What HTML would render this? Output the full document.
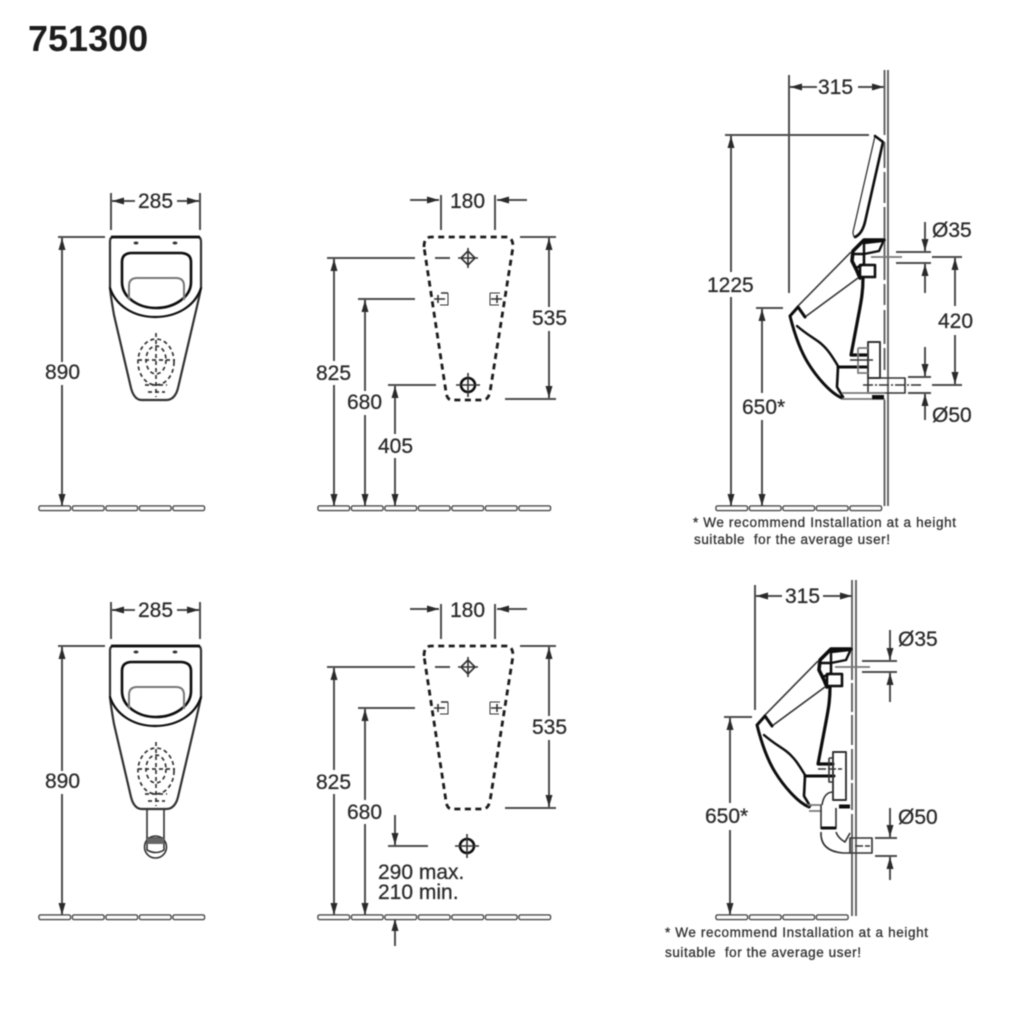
<!DOCTYPE html>
<html><head><meta charset="utf-8"><style>
html,body{margin:0;padding:0;background:#fff;width:1020px;height:1024px;overflow:hidden}
svg{display:block}
text{font-family:"Liberation Sans",sans-serif;fill:#2a2a2a;font-size:21px;stroke:#2a2a2a;stroke-width:.25}
.d{stroke:#4d4d4d;stroke-width:2;fill:none}
.k{stroke:#0c0c0c;stroke-width:2.6;fill:none;stroke-linejoin:round;stroke-linecap:round}
.m{stroke:#333;stroke-width:1.6;fill:none;stroke-linejoin:round}
.l{stroke:#777;stroke-width:1.7;fill:none}
.s{stroke:#333;stroke-width:1.7;fill:none;stroke-dasharray:4 3}
.dash{stroke:#1c1c1c;stroke-width:2.8;fill:none;stroke-dasharray:6 4.5;stroke-linejoin:round}
.f{fill:#fff;stroke:#444;stroke-width:1.5}
.w{stroke:#666;stroke-width:2;fill:none}
.n{font-size:13.5px;fill:#333;stroke:#333;stroke-width:.3}
</style></head><body>
<svg width="1020" height="1024" viewBox="0 0 1020 1024" xmlns="http://www.w3.org/2000/svg">
<defs>
<filter id="b" x="-2%" y="-2%" width="104%" height="104%"><feGaussianBlur stdDeviation="0.5"/></filter>
<marker id="a" viewBox="0 0 12 7" refX="12" refY="3.5" markerWidth="12" markerHeight="7" markerUnits="userSpaceOnUse" orient="auto"><path d="M0 0L12 3.500L0 7z" fill="#2a2a2a"/></marker>
<g id="seg"><rect x="0" y="-2" width="31.5" height="4.5" rx="1.5" class="f"/></g>
<g id="f4"><use href="#seg" x="0"/><use href="#seg" x="33.5"/><use href="#seg" x="67"/><use href="#seg" x="100.5"/></g>
<g id="front">
 <path class="m" style="stroke-width:2.2" d="M110 241Q110 237 114 237H197Q201 237 201 241V288Q199 298 195 315L178 388Q175 400 166 400H142Q134 400 131 388L114 315Q111 298 110 288Z"/>
 <path d="M111 237H200" stroke="#111" stroke-width="2.8"/>
 <path class="k" style="stroke-width:2.2" d="M110 288C116 306 134 317 155 317C177 317 195 306 201 288"/>
 <path class="k" d="M122 262Q122 253 132 253H180Q191 253 191 262V282C191 298 173 308 156 308C139 308 122 298 122 282Z"/>
 <path class="l" style="stroke-width:2" d="M129 300V286Q129 278 137 278H176Q184 278 184 286V300"/>
 <ellipse cx="136" cy="243" rx="2.5" ry="1.5" fill="#333"/><ellipse cx="175" cy="243" rx="2.5" ry="1.5" fill="#333"/>
 <g class="s">
  <ellipse cx="156" cy="362" rx="18" ry="23"/><ellipse cx="156" cy="360" rx="10" ry="14"/>
  <path d="M156 333V397M138 360H175M145 385H167M148 392H165"/>
 </g>
</g>
<g id="rear">
 <path class="dash" d="M424 247Q424 237 431 237H506Q513 237 513 247L490 392Q488 400 483 400H452Q447 400 446 392Z"/>
 <path class="m" d="M468 251L475 258L468 265L461 258ZM468 248V268M458 258H478"/>
 <path class="m" style="stroke-width:1" d="M448 293V305H440M490 293V305H499M490 293H500"/>
 <path class="m" d="M448 293H441M434 299H445M491 299H502M497 295V303M438 295V303"/>
</g>
<g id="bowl">
 <path d="M884 239L863 239L853 250L852 260L857 270L860 278L862 278L875 277V265L862 265L862 253L865 253L878 250L882 242L865 243L865 253L853 252Z" fill="#0c0c0c" fill-rule="nonzero" opacity="0"/>
 <path class="k" style="stroke-width:3.6" d="M884 240L864 240L853 251L852 261L857 271L860 278"/>
 <path class="k" style="stroke-width:2.4" d="M884 240L879 251L864 254V243L882 241"/>
 <path class="k" style="stroke-width:2.6" d="M853 254L864 254V264L856 268"/>
 <path class="k" style="stroke-width:2.6" d="M860 265H875V277H860Z"/>
 <path class="m" d="M851 252L797 307"/>
 <path class="m" d="M858 278L805 317"/>
 <path class="k" style="stroke-width:3" d="M805 317L798 307L790 316C794 332 800 350 808 363C816 376 830 393 842 398"/>
 <path class="k" style="stroke-width:2.4" d="M797 326C805 333 812 337 819 342C827 348 832 356 838 366"/>
 <path class="k" style="stroke-width:3" d="M838 367H867"/>
 <path class="k" d="M838 367L837 387L843 397"/>
 <path class="k" style="stroke-width:3.2" d="M863 278C863 293 861 302 858 318L851 355H866"/>
</g>
</defs>
<g filter="url(#b)">
<text x="28" y="51" style="font-size:36px;font-weight:bold;fill:#1c1c1c;stroke:none">751300</text>

<!-- Front top -->
<use href="#front"/>
<path class="d" d="M111 193V230M200 193V230"/>
<path class="d" marker-end="url(#a)" d="M135 201H112"/><path class="d" marker-end="url(#a)" d="M177 201H199"/>
<text x="138" y="208">285</text>
<path class="d" d="M58 237H105"/>
<path class="d" marker-end="url(#a)" d="M62 362V238"/><path class="d" marker-end="url(#a)" d="M62 385V506"/>
<text x="45" y="379">890</text>
<g transform="translate(39 508)"><use href="#f4"/><use href="#seg" x="134"/></g>

<!-- Front bottom -->
<use href="#front" y="409"/>
<path class="m" d="M147 809V838M164 809V838"/>
<circle cx="155.500" cy="847" r="11" class="m"/>
<path class="m" d="M147 838H164V850Q156 855 147 850Z" fill="#fff"/>
<rect x="147" y="838" width="17" height="6" fill="#666"/>
<path class="d" d="M111 602V639M200 602V639"/>
<path class="d" marker-end="url(#a)" d="M135 610H112"/><path class="d" marker-end="url(#a)" d="M177 610H199"/>
<text x="138" y="617">285</text>
<path class="d" d="M58 646H105"/>
<path class="d" marker-end="url(#a)" d="M62 771V647"/><path class="d" marker-end="url(#a)" d="M62 794V915"/>
<text x="45" y="788">890</text>
<g transform="translate(39 917)"><use href="#f4"/><use href="#seg" x="134"/></g>

<!-- Rear top -->
<use href="#rear"/>
<circle cx="468" cy="385" r="7" class="k"/><path class="m" d="M468 373V397M456 385H480"/>
<path class="d" d="M441 195V230M495 195V230"/>
<path class="d" marker-end="url(#a)" d="M410 200H439"/><path class="d" marker-end="url(#a)" d="M527 200H497"/>
<text x="450" y="208">180</text>
<path class="d" d="M520 237H556M505 399H556"/>
<path class="d" marker-end="url(#a)" d="M549 307V238"/><path class="d" marker-end="url(#a)" d="M549 331V398"/>
<text x="532" y="325">535</text>
<path class="d" d="M327 258H415M435 258H450"/>
<path class="d" marker-end="url(#a)" d="M334 361V259"/><path class="d" marker-end="url(#a)" d="M334 385V506"/>
<text x="316" y="380">825</text>
<path class="d" d="M358 299H415"/>
<path class="d" marker-end="url(#a)" d="M365 391V300"/><path class="d" marker-end="url(#a)" d="M365 415V506"/>
<text x="347" y="409">680</text>
<path class="d" d="M388 385H436"/>
<path class="d" marker-end="url(#a)" d="M395 434V386"/><path class="d" marker-end="url(#a)" d="M395 458V506"/>
<text x="378" y="453">405</text>
<g transform="translate(318 508)"><use href="#f4"/><use href="#seg" x="134"/><use href="#seg" x="167.5"/><use href="#seg" x="201"/></g>

<!-- Rear bottom -->
<use href="#rear" y="409"/>
<circle cx="467" cy="846" r="7" class="k"/><path class="m" d="M467 834V858M455 846H479"/>
<path class="d" d="M441 604V639M495 604V639"/>
<path class="d" marker-end="url(#a)" d="M410 609H439"/><path class="d" marker-end="url(#a)" d="M527 609H497"/>
<text x="450" y="617">180</text>
<path class="d" d="M520 646H556M505 808H556"/>
<path class="d" marker-end="url(#a)" d="M549 716V647"/><path class="d" marker-end="url(#a)" d="M549 740V807"/>
<text x="532" y="734">535</text>
<path class="d" d="M327 667H415M435 667H450"/>
<path class="d" marker-end="url(#a)" d="M334 770V668"/><path class="d" marker-end="url(#a)" d="M334 794V915"/>
<text x="316" y="789">825</text>
<path class="d" d="M358 708H415"/>
<path class="d" marker-end="url(#a)" d="M365 800V709"/><path class="d" marker-end="url(#a)" d="M365 824V915"/>
<text x="347" y="819">680</text>
<path class="d" d="M388 846H428"/>
<path class="d" marker-end="url(#a)" d="M395 815V845"/><path class="d" marker-end="url(#a)" d="M395 946V919"/>
<text x="378" y="879">290 max.</text>
<text x="378" y="899">210 min.</text>
<g transform="translate(318 917)"><use href="#f4"/><use href="#seg" x="134"/><use href="#seg" x="167.5"/><use href="#seg" x="201"/></g>

<!-- Side top -->
<path class="w" d="M888 70V506"/>
<path class="w" d="M884.500 70V135M884.500 142V168M884.500 172V203M884.500 207V280M884.500 284V305M884.500 310V344M884.500 348V370M884.500 400V506"/>
<path class="m" style="stroke-width:1.3" d="M875 136L853 232Q853 238 857 237"/>
<path class="k" d="M875 136L883 142L865 222Q862 234 855 237"/>
<use href="#bowl"/>
<path class="m" style="stroke-width:1.9" d="M868 342H880V378H868Z"/>
<path class="l" d="M858 348H868M858 348V373H868"/>
<path class="m" d="M850 360H873"/>
<path class="m" d="M868 378H905V393H868Z"/>
<path class="m" style="stroke-dasharray:10 2 2 2" d="M863 385H923"/>
<path class="l" d="M842 393H885M842 399H885"/>
<rect x="872" y="395" width="12" height="4.500" fill="#0c0c0c"/>
<path class="l" d="M871 257H902"/>
<path class="d" d="M896 252H931M896 263H931M932 257H962M932 385H962M908 377H931M908 393H931"/>
<path class="d" d="M789 75V293"/>
<path class="d" marker-end="url(#a)" d="M817 87H790"/><path class="d" marker-end="url(#a)" d="M858 87H884"/>
<text x="818" y="94">315</text>
<path class="d" d="M725 135H869"/>
<path class="d" marker-end="url(#a)" d="M731 272V136"/><path class="d" marker-end="url(#a)" d="M731 297V506"/>
<text x="707" y="292">1225</text>
<path class="d" d="M756 308H783"/>
<path class="d" marker-end="url(#a)" d="M762 393V309"/><path class="d" marker-end="url(#a)" d="M762 420V506"/>
<text x="742" y="414">650*</text>
<path class="d" marker-end="url(#a)" d="M925 222V251"/><path class="d" marker-end="url(#a)" d="M925 293V264"/>
<text x="932" y="237">Ø35</text>
<path class="d" marker-end="url(#a)" d="M955 306V258"/><path class="d" marker-end="url(#a)" d="M955 335V384"/>
<text x="938" y="328">420</text>
<path class="d" marker-end="url(#a)" d="M925 347V376"/><path class="d" marker-end="url(#a)" d="M925 420V394"/>
<text x="932" y="422">Ø50</text>
<g transform="translate(716 508)"><use href="#f4"/><use href="#seg" x="134"/></g>
<text class="n" x="693" y="527" textLength="263">* We recommend Installation at a height</text>
<text class="n" x="694" y="544" textLength="196" xml:space="preserve">suitable  for the average user!</text>

<!-- Side bottom -->
<path class="w" d="M856 580V916"/>
<path class="w" d="M852 580V680M852 683V712M852 715V745M852 749V780M852 783V810M852 814V916"/>
<use href="#bowl" transform="translate(-33 409)"/>
<path class="m" style="stroke-width:1.9" d="M833 752H846V800H833Z"/>
<path class="m" d="M829 758H833M829 758V782H833"/>
<path class="m" style="stroke-dasharray:8 2" d="M818 769H842"/>
<path class="l" d="M808 805H822M809 811H822"/>
<path class="m" d="M821 805V829M836 808V829M822 805Q824 792 833 792"/>
<rect x="821" y="826.500" width="15" height="3" fill="#111"/>
<rect x="839" y="804.500" width="11" height="4" fill="#111"/>
<path class="m" d="M821 832Q820 851 843 853H850M836 832Q838 838 845 842L850 833"/>
<path class="m" d="M850 838H872V853H850Z"/>
<path class="m" style="stroke-dasharray:8 2" d="M855 846H870"/>
<path class="l" d="M835 667H870"/>
<path class="d" d="M862 661H897M862 672H897M875 838H897M875 856H897"/>
<path class="d" d="M755 585V710"/>
<path class="d" marker-end="url(#a)" d="M782 596H756"/><path class="d" marker-end="url(#a)" d="M823 596H852"/>
<text x="785" y="603">315</text>
<path class="d" d="M724 717H752"/>
<path class="d" marker-end="url(#a)" d="M730 803V718"/><path class="d" marker-end="url(#a)" d="M730 830V915"/>
<text x="705" y="823">650*</text>
<path class="d" marker-end="url(#a)" d="M890 630V660"/><path class="d" marker-end="url(#a)" d="M890 702V673"/>
<text x="898" y="646">Ø35</text>
<path class="d" marker-end="url(#a)" d="M890 808V837"/><path class="d" marker-end="url(#a)" d="M890 880V857"/>
<text x="898" y="824">Ø50</text>
<g transform="translate(716 917)"><use href="#f4"/></g>
<text class="n" x="665" y="937" textLength="263">* We recommend Installation at a height</text>
<text class="n" x="665" y="957" textLength="196" xml:space="preserve">suitable  for the average user!</text>
</g>
</svg>
</body></html>
